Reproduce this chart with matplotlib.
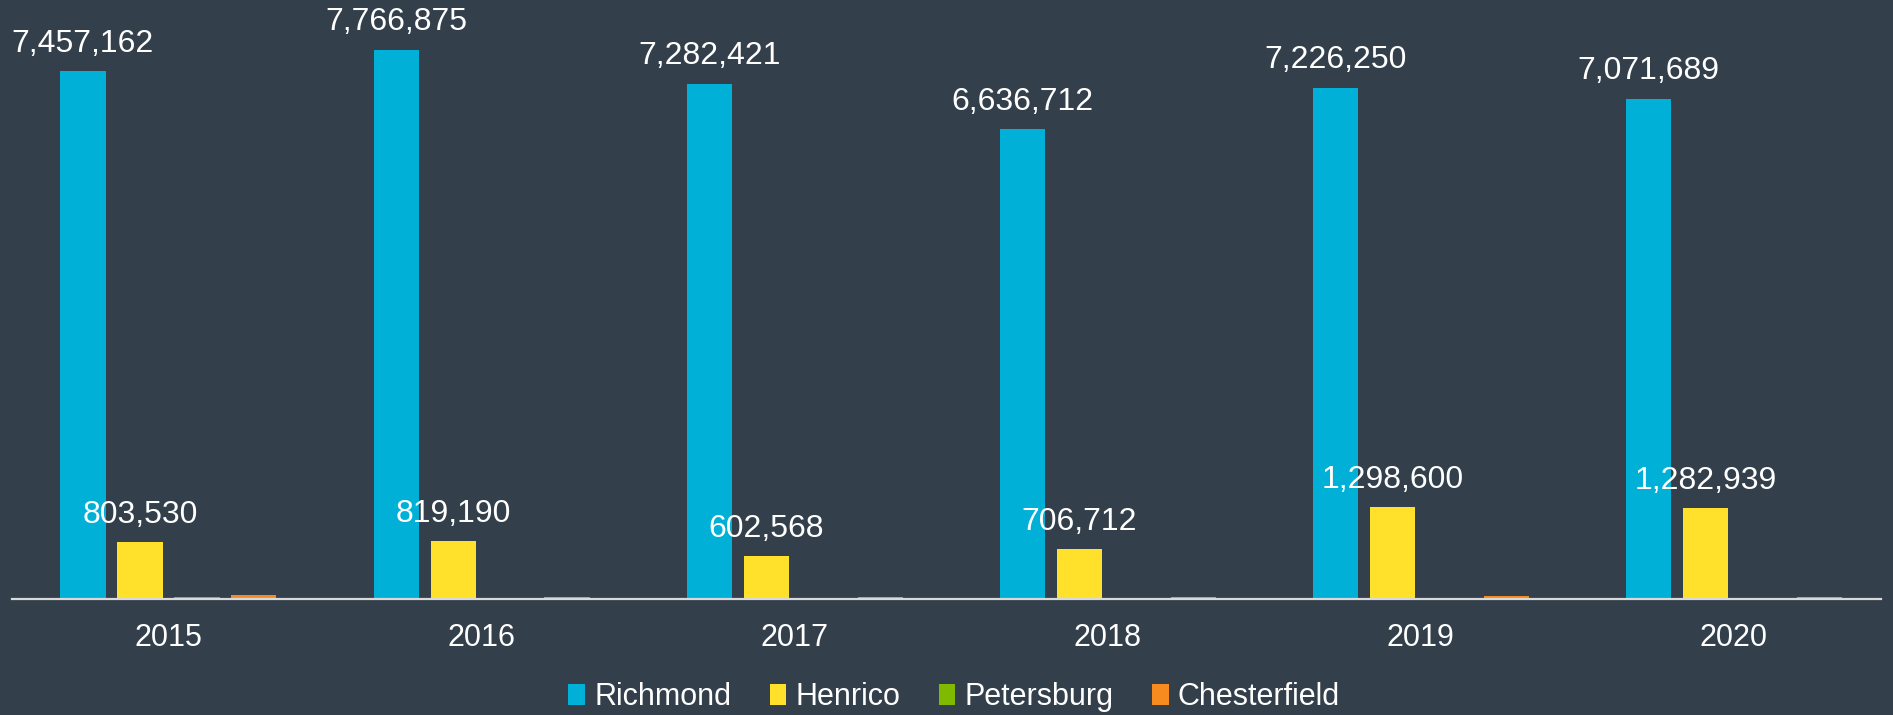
import matplotlib
matplotlib.use("Agg")
import matplotlib.pyplot as plt
import numpy as np

years = ["2015", "2016", "2017", "2018", "2019", "2020"]
richmond = [7457162, 7766875, 7282421, 6636712, 7226250, 7071689]
henrico = [803530, 819190, 602568, 706712, 1298600, 1282939]
petersburg = [32000, 18000, 2000, 18000, 18000, 2000]
chesterfield = [50000, 33000, 28000, 28000, 40000, 33000]

series = [("Richmond", richmond, "#00B0D6", True),
          ("Henrico", henrico, "#FFE12B", True),
          ("Petersburg", petersburg, "#7FBA00", False),
          ("Chesterfield", chesterfield, "#F78B1F", False)]

bg = "#333F4A"
plt.rcParams["font.family"] = ["Liberation Sans", "DejaVu Sans"]

fig = plt.figure(figsize=(18.93, 7.15), dpi=100, facecolor=bg)
ax = fig.add_axes([0.0063, 0.1622, 0.9874, 0.7916], facecolor=bg)

x = np.arange(len(years))
step = 0.182
w = 0.144
for i, (name, vals, col, lab) in enumerate(series):
    pos = x + (i - 1.5) * step
    bars = ax.bar(pos, vals, width=w, color=col, label=name, zorder=2)
    if lab:
        # étiquettes de valeur seulement pour les deux grandes séries
        for b, v in zip(bars, vals):
            ax.annotate(f"{v:,}", (b.get_x() + b.get_width() / 2, v),
                        xytext=(0, 9), textcoords="offset points",
                        ha="center", va="bottom", color="white", fontsize=23,
                        annotation_clip=False)

ax.set_xlim(-0.5, 5.47)
ax.set_ylim(0, 8000000)
ax.set_xticks(x)
ax.set_xticklabels(years, color="white", fontsize=22)
ax.tick_params(axis="x", length=0, pad=17)
ax.set_yticks([])
for s in ["top", "right", "left"]:
    ax.spines[s].set_visible(False)
ax.spines["bottom"].set_color("#D9D9D9")
ax.spines["bottom"].set_linewidth(1.6)
ax.spines["bottom"].set_zorder(3)

leg = fig.legend(loc="center", bbox_to_anchor=(0.504, 0.025), ncol=4,
                 frameon=False, handlelength=0.55, handleheight=0.7,
                 handletextpad=0.3, columnspacing=1.25,
                 prop={"size": 22})
for t in leg.get_texts():
    t.set_color("white")

fig.savefig("out.png", dpi=100, facecolor=bg)
